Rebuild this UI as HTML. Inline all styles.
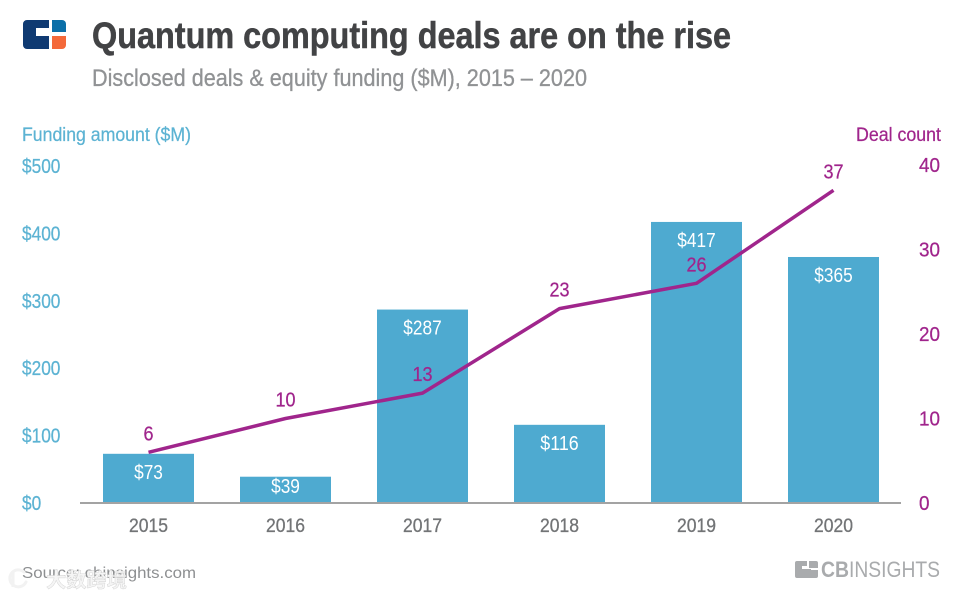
<!DOCTYPE html>
<html lang="en">
<head>
<meta charset="utf-8">
<title>Quantum computing deals are on the rise</title>
<style>
html,body{margin:0;padding:0;background:#fff;}
svg{display:block;font-family:"Liberation Sans",sans-serif;}
</style>
</head>
<body>
<svg id="chart" width="970" height="597" viewBox="0 0 970 597" xmlns="http://www.w3.org/2000/svg">
  <rect width="970" height="597" fill="#ffffff"/>
  <g>
    <path d="M27 20h22v8h-13v5h13v16h-22a4 4 0 0 1-4-4v-21a4 4 0 0 1 4-4z" fill="#0f3a72"/>
    <path d="M36 31h15v5h-15z" fill="#ffffff"/>
    <path d="M52 20h10a4 4 0 0 1 4 4v8h-14z" fill="#0b6fa8"/>
    <path d="M52 36h14v9a4 4 0 0 1-4 4h-10z" fill="#f4693a"/>
  </g>
  <text x="92" y="48" font-size="37" font-weight="700" fill="#424345" stroke="#424345" stroke-width="0.5" textLength="639" lengthAdjust="spacingAndGlyphs">Quantum computing deals are on the rise</text>
  <text x="92" y="86" font-size="24" fill="#909294" stroke="#909294" stroke-width="0.3" textLength="495" lengthAdjust="spacingAndGlyphs">Disclosed deals &amp; equity funding ($M), 2015 – 2020</text>
  <text x="22" y="141" font-size="19" fill="#5cb3d3" stroke="#5cb3d3" stroke-width="0.25" textLength="169" lengthAdjust="spacingAndGlyphs">Funding amount ($M)</text>
  <text x="856" y="141" font-size="19" fill="#a0258c" stroke="#a0258c" stroke-width="0.25" textLength="85" lengthAdjust="spacingAndGlyphs">Deal count</text>
  <g id="plot"></g>
  <text x="22" y="578" font-size="16" fill="#8d8f91" textLength="174" lengthAdjust="spacingAndGlyphs">Source: cbinsights.com</text>
  <g>
    <path d="M24 572a8.5 8.5 0 1 0 2 10" fill="none" stroke="#f2f2f2" stroke-width="3" stroke-linecap="round"/>
    <path d="M13 571v16" fill="none" stroke="#f2f2f2" stroke-width="3"/>
    <text x="46" y="587" font-size="20" font-weight="700" fill="#f5f5f5" stroke="#cfcfcf" stroke-width="0.4" textLength="81" lengthAdjust="spacingAndGlyphs" style="font-family:'Liberation Sans','Noto Sans CJK SC',sans-serif">大数跨境</text>
  </g>
  <g>
    <path d="M797 561h10v5h-5v3h9v9h-14a2 2 0 0 1-2-2v-13a2 2 0 0 1 2-2zM809 561h7a2 2 0 0 1 2 2v5h-9zM809 570h9v6a2 2 0 0 1-2 2h-7z" fill="#a9abad"/>
    <text x="821" y="577" font-size="22" font-weight="700" fill="#a9abad" textLength="28" lengthAdjust="spacingAndGlyphs">CB</text>
    <text x="849" y="577" font-size="22" fill="#a9abad" textLength="91" lengthAdjust="spacingAndGlyphs">INSIGHTS</text>
  </g>
</svg>
<script>
const years = ['2015', '2016', '2017', '2018', '2019', '2020'];
const funding = [73, 39, 287, 116, 417, 365];
const deals = [6, 10, 13, 23, 26, 37];
const fundingTicks = [0, 100, 200, 300, 400, 500];
const dealTicks = [0, 10, 20, 30, 40];

const NS = 'http://www.w3.org/2000/svg';
const plot = document.getElementById('plot');
const baseY = 503, topY = 165, firstX = 148.5, stepX = 137, barW = 91;
const xAt = i => firstX + stepX * i;
const yFunding = v => baseY - (v / 500) * (baseY - topY - 1);
const yDeals = v => baseY - (v / 40) * (baseY - topY);

function make(tag, attrs, text) {
  const el = document.createElementNS(NS, tag);
  for (const k in attrs) el.setAttribute(k, attrs[k]);
  if (text !== undefined) el.textContent = text;
  plot.appendChild(el);
  return el;
}
const BLUE = '#4eaad0', PURPLE = '#a0258c', LIGHT = '#5cb3d3';

fundingTicks.forEach(t => {
  const el = make('text', {x: 22, y: yFunding(t) + 7, 'font-size': 20, fill: LIGHT, stroke: LIGHT, 'stroke-width': 0.25, textLength: String('$' + t).length * 9.6, lengthAdjust: 'spacingAndGlyphs'}, '$' + t);
  
  
});
dealTicks.forEach(t => {
  const el = make('text', {x: 919, y: yDeals(t) + 7, 'font-size': 20, fill: PURPLE, stroke: PURPLE, 'stroke-width': 0.25, textLength: String(t).length * 10.5, lengthAdjust: 'spacingAndGlyphs'}, String(t));
  
  
});

years.forEach((y, i) => {
  const bar = make('rect', {x: xAt(i) - barW / 2, y: yFunding(funding[i]), width: barW, height: baseY - yFunding(funding[i]), fill: BLUE});
  
  
  const yr = make('text', {x: xAt(i), y: 532, 'font-size': 19, fill: '#727476', stroke: '#727476', 'stroke-width': 0.3, 'text-anchor': 'middle', textLength: 39, lengthAdjust: 'spacingAndGlyphs'}, y);
  
  
});

const axis = make('line', {x1: 80, x2: 901, y1: baseY, y2: baseY, stroke: '#a3a3a3', 'stroke-width': 2});



years.forEach((y, i) => {
  const s = '$' + funding[i];
  const labelY = Math.min(yFunding(funding[i]) + 25, baseY - 10);
  const lab = make('text', {x: xAt(i), y: labelY, 'font-size': 20, fill: '#ffffff', 'text-anchor': 'middle', textLength: s.length * 9.6, lengthAdjust: 'spacingAndGlyphs'}, s);
  
  
});

const line = make('polyline', {points: deals.map((d, i) => xAt(i) + ',' + yDeals(d)).join(' '), fill: 'none', stroke: PURPLE, 'stroke-width': 3.5, 'stroke-linejoin': 'round'});



deals.forEach((d, i) => {
  const s = String(d);
  const lab = make('text', {x: xAt(i), y: yDeals(d) - 12, 'font-size': 20, fill: PURPLE, stroke: PURPLE, 'stroke-width': 0.25, 'text-anchor': 'middle', textLength: s.length * 10, lengthAdjust: 'spacingAndGlyphs'}, s);
  
  
});
</script>
</body>
</html>
